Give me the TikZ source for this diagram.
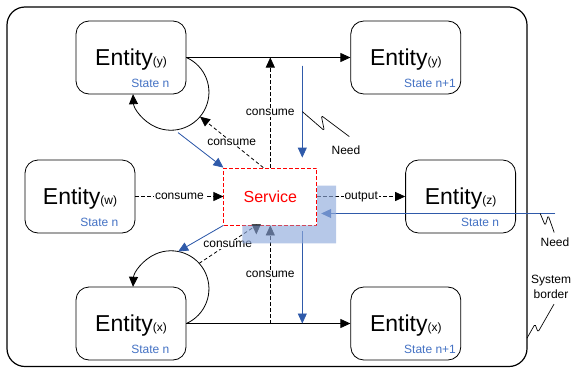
\documentclass[tikz,border=0pt]{standalone}
\usepackage{fontspec}
\setmainfont{Liberation Sans}
\usepackage{tikz}
\usetikzlibrary{arrows.meta,calc,positioning}

\definecolor{lineblue}{RGB}{47,90,170}
\definecolor{textblue}{RGB}{68,114,196}
\definecolor{shadeblue}{RGB}{143,170,220}
\newcommand{\entity}[1]{\fontsize{23}{23}\selectfont Entity{\fontsize{12}{12}\selectfont(#1)}}

\begin{document}
\begin{tikzpicture}[x=1pt, y=-1pt, >={Triangle[length=10pt,width=9pt]}, line width=0.8pt,
		entity node/.style={rectangle, rounded corners=13pt, draw, fill=white, minimum width=110pt, minimum height=73pt, text height=17pt, text depth=2pt},
		state label/.style={anchor=base west, inner sep=0pt, yshift=7pt, text=textblue, font=\fontsize{12}{12}\selectfont},
		service node/.style={rectangle, draw=red, dash pattern=on 4pt off 2pt, fill=white, text=red, minimum width=93pt, minimum height=57pt, font=\fontsize{16}{16}\selectfont},
		flow label/.style={fill=white, inner sep=1pt, font=\fontsize{12}{12}\selectfont},
		consume line/.style={->, dash pattern=on 3.5pt off 2.5pt},
		need line/.style={->, draw=lineblue, fill=lineblue},
		shade area/.style={fill=shadeblue, fill opacity=0.65},
		squiggle/.style={-, line width=0.7pt, rounded corners=1.5pt},
		plain label/.style={inner sep=1pt, font=\fontsize{12}{15}\selectfont}]

	\useasboundingbox (0,0) rectangle (573,367);
	\draw[line width=1.2pt, rounded corners=18pt] (7,7) rectangle (527,366.5);

	\node[entity node, label={[state label]south:State n}] (ey) at (131,57.5) {\entity{y}};
	\node[entity node, label={[state label,xshift=-2pt]south:State n+1}, right=164pt of ey] (ey2) {\entity{y}};
	\node[entity node, label={[state label]south:State n}] (ew) at (80,196.5) {\entity{w}};
	\node[service node, right=88pt of ew] (sv) {Service};
	\node[entity node, label={[state label]south:State n}, right=88pt of sv] (ez) {\entity{z}};
	\node[entity node, label={[state label]south:State n}] (ex) at (131,323.5) {\entity{x}};
	\node[entity node, label={[state label,xshift=-2pt]south:State n+1}, right=164pt of ex] (ex2) {\entity{x}};

	\coordinate (ylc) at ($(ey.east)+(-15.5,34.7)$);
	\coordinate (xlc) at ($(ex.east)+(-15.5,-34.7)$);
	\coordinate (yl) at ($(ylc)+(40:38)$);
	\coordinate (yb) at ($(ylc)+(80:41)$);
	\coordinate (xl) at ($(xlc)+(-42:38)$);
	\coordinate (xt) at ($(xlc)+(-79:38)$);
	\coordinate (yt) at (sv.north |- ey.east);
	\coordinate (xb) at (sv.south |- ex.east);
	\coordinate (xs) at ($(sv.south)+(-14,0)$);
	\coordinate (na) at ($(sv.north)+(32,-102)$);
	\coordinate (nb) at ($(sv.north)+(32,-10)$);
	\coordinate (nc) at ($(sv.south)+(32,6)$);
	\coordinate (nd) at (nc |- ex.east);
	\coordinate (ne) at ($(sv.east)+(238,17)$);
	\coordinate (nf) at ($(sv.east)+(4,17)$);

	\path	(ey)	edge[->] (ey2);
	\path	(ex)	edge[->] (ex2);
	\draw[->] (ey.east) arc[start angle=-66, end angle=177, radius=38];
	\draw[->] (ex.east) arc[start angle=66, end angle=-177, radius=38];

	\path	(ew)	edge[consume line] node[flow label]{consume} (sv);
	\path	(sv)	edge[consume line] node[flow label]{output} (ez);
	\path	(sv.north) edge[consume line] node[flow label]{consume} (yt);
	\path	($(sv.north)+(-7,0)$) edge[consume line] node[flow label]{consume} (yl);
	\path	(xb)	edge[consume line] node[flow label]{consume} (sv.south);
	\draw[consume line] (xl) -- node[flow label]{consume} (xs) -- ++(0,9);

	\path	(na)	edge[need line] (nb);
	\path	(nc)	edge[need line] (nd);
	\path	(ne)	edge[need line] (nf);
	\path	(yb)	edge[need line] (sv.north west);
	\path	(sv.south west) edge[need line] (xt);

	\fill[shade area] ($(sv.north east)+(0,18)$) -- ++(19,0) |- ($(sv.south west)+(19,18)$) |- (sv.south east) -- cycle;

	\node[plain label] (need1) at (346,150) {Need};
	\node[plain label] (need2) at (555,242) {Need};
	\node[plain label, align=center] (sysb) at (551,287) {System\\border};
	\draw[squiggle] ($(na)!0.5!(nb)$) -- ++(22,19) -- ++(-3,-15) -- ++(28,21);
	\draw[squiggle] ($(ne)+(-15,0)$) -- ++(5,12) -- ++(3,-10) -- ++(6,17);
	\draw[squiggle] ($(sysb.south)+(3,4)$) -- ++(-16,28) -- ++(-3,-8) -- ++(-8,14);
\end{tikzpicture}
\end{document}
